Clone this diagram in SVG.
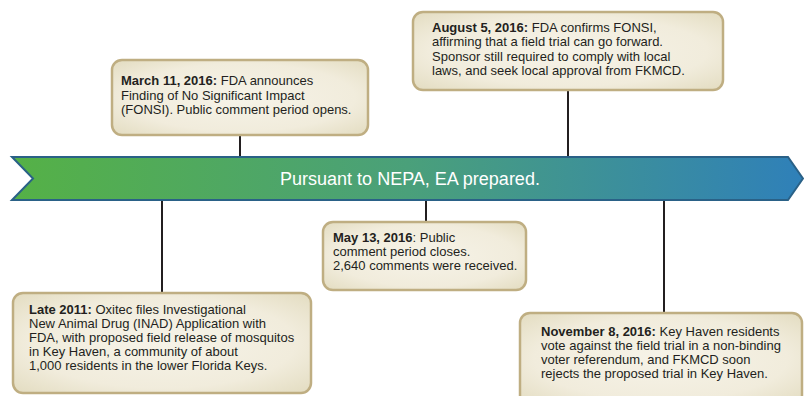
<svg xmlns="http://www.w3.org/2000/svg" width="804" height="396" viewBox="0 0 804 396">
  <defs>
    <linearGradient id="bannerFill" x1="0" y1="0" x2="1" y2="0">
      <stop offset="0" stop-color="#55b146"/>
      <stop offset="0.5" stop-color="#4aa07a"/>
      <stop offset="1" stop-color="#2f80b9"/>
    </linearGradient>
    <radialGradient id="noteFill" cx="0.5" cy="0.5" r="0.75">
      <stop offset="0" stop-color="#f6f3e8"/>
      <stop offset="0.6" stop-color="#f1ecdc"/>
      <stop offset="1" stop-color="#e0d9bb"/>
    </radialGradient>
    <style>
      .note { fill: url(#noteFill); stroke: #bfae82; stroke-width: 2.5; }
      .txt { font-family: "Liberation Sans", Arial, sans-serif; font-size: 13px; fill: #231f20; }
      .b { font-weight: bold; }
      .link { stroke: #231f20; stroke-width: 2; fill: none; }
      .bannerText { font-family: "Liberation Sans", Arial, sans-serif; font-size: 18px; fill: #ffffff; }
    </style>
  </defs>

  <!-- connectors between the banner and the notes -->
  <g id="connectors">
    <line class="link" x1="240" y1="135" x2="240" y2="158"/>
    <line class="link" x1="568" y1="90" x2="568" y2="158"/>
    <line class="link" x1="426" y1="199" x2="426" y2="222"/>
    <line class="link" x1="162" y1="199" x2="162" y2="293"/>
    <line class="link" x1="664" y1="199" x2="664" y2="313"/>
  </g>

  <!-- central timeline banner -->
  <g id="banner">
    <polygon points="12,157 788,157 803,178.5 788,200 12,200 33,178.5" fill="url(#bannerFill)" stroke="#2a6187" stroke-width="2"/>
    <text class="bannerText" x="410" y="185" text-anchor="middle">Pursuant to NEPA, EA prepared.</text>
  </g>

  <g id="march-2016">
    <rect class="note" x="112" y="60" width="256" height="75" rx="10"/>
    <text class="txt" x="121" y="85">
      <tspan class="b">March 11, 2016:</tspan> FDA announces
      <tspan x="121" dy="14.5">Finding of No Significant Impact</tspan>
      <tspan x="121" dy="14.5">(FONSI). Public comment period opens.</tspan>
    </text>
  </g>

  <g id="august-2016">
    <rect class="note" x="413" y="12" width="310" height="78" rx="10"/>
    <text class="txt" x="432" y="32">
      <tspan class="b">August 5, 2016:</tspan> FDA confirms FONSI,
      <tspan x="432" dy="14.3">affirming that a field trial can go forward.</tspan>
      <tspan x="432" dy="14.3">Sponsor still required to comply with local</tspan>
      <tspan x="432" dy="14.3">laws, and seek local approval from FKMCD.</tspan>
    </text>
  </g>

  <g id="may-2016">
    <rect class="note" x="323" y="222" width="203" height="68" rx="10"/>
    <text class="txt" x="333" y="242">
      <tspan class="b">May 13, 2016</tspan>: Public
      <tspan x="333" dy="14">comment period closes.</tspan>
      <tspan x="333" dy="14">2,640 comments were received.</tspan>
    </text>
  </g>

  <g id="late-2011">
    <rect class="note" x="13" y="293" width="298" height="100" rx="10"/>
    <text class="txt" x="29" y="314">
      <tspan class="b">Late 2011:</tspan> Oxitec files Investigational
      <tspan x="29" dy="14">New Animal Drug (INAD) Application with</tspan>
      <tspan x="29" dy="14">FDA, with proposed field release of mosquitos</tspan>
      <tspan x="29" dy="14">in Key Haven, a community of about</tspan>
      <tspan x="29" dy="14">1,000 residents in the lower Florida Keys.</tspan>
    </text>
  </g>

  <g id="november-2016">
    <rect class="note" x="520" y="313" width="282" height="92" rx="10"/>
    <text class="txt" x="541" y="336">
      <tspan class="b">November 8, 2016:</tspan> Key Haven residents
      <tspan x="541" dy="14">vote against the field trial in a non-binding</tspan>
      <tspan x="541" dy="14">voter referendum, and FKMCD soon</tspan>
      <tspan x="541" dy="14">rejects the proposed trial in Key Haven.</tspan>
    </text>
  </g>
</svg>
